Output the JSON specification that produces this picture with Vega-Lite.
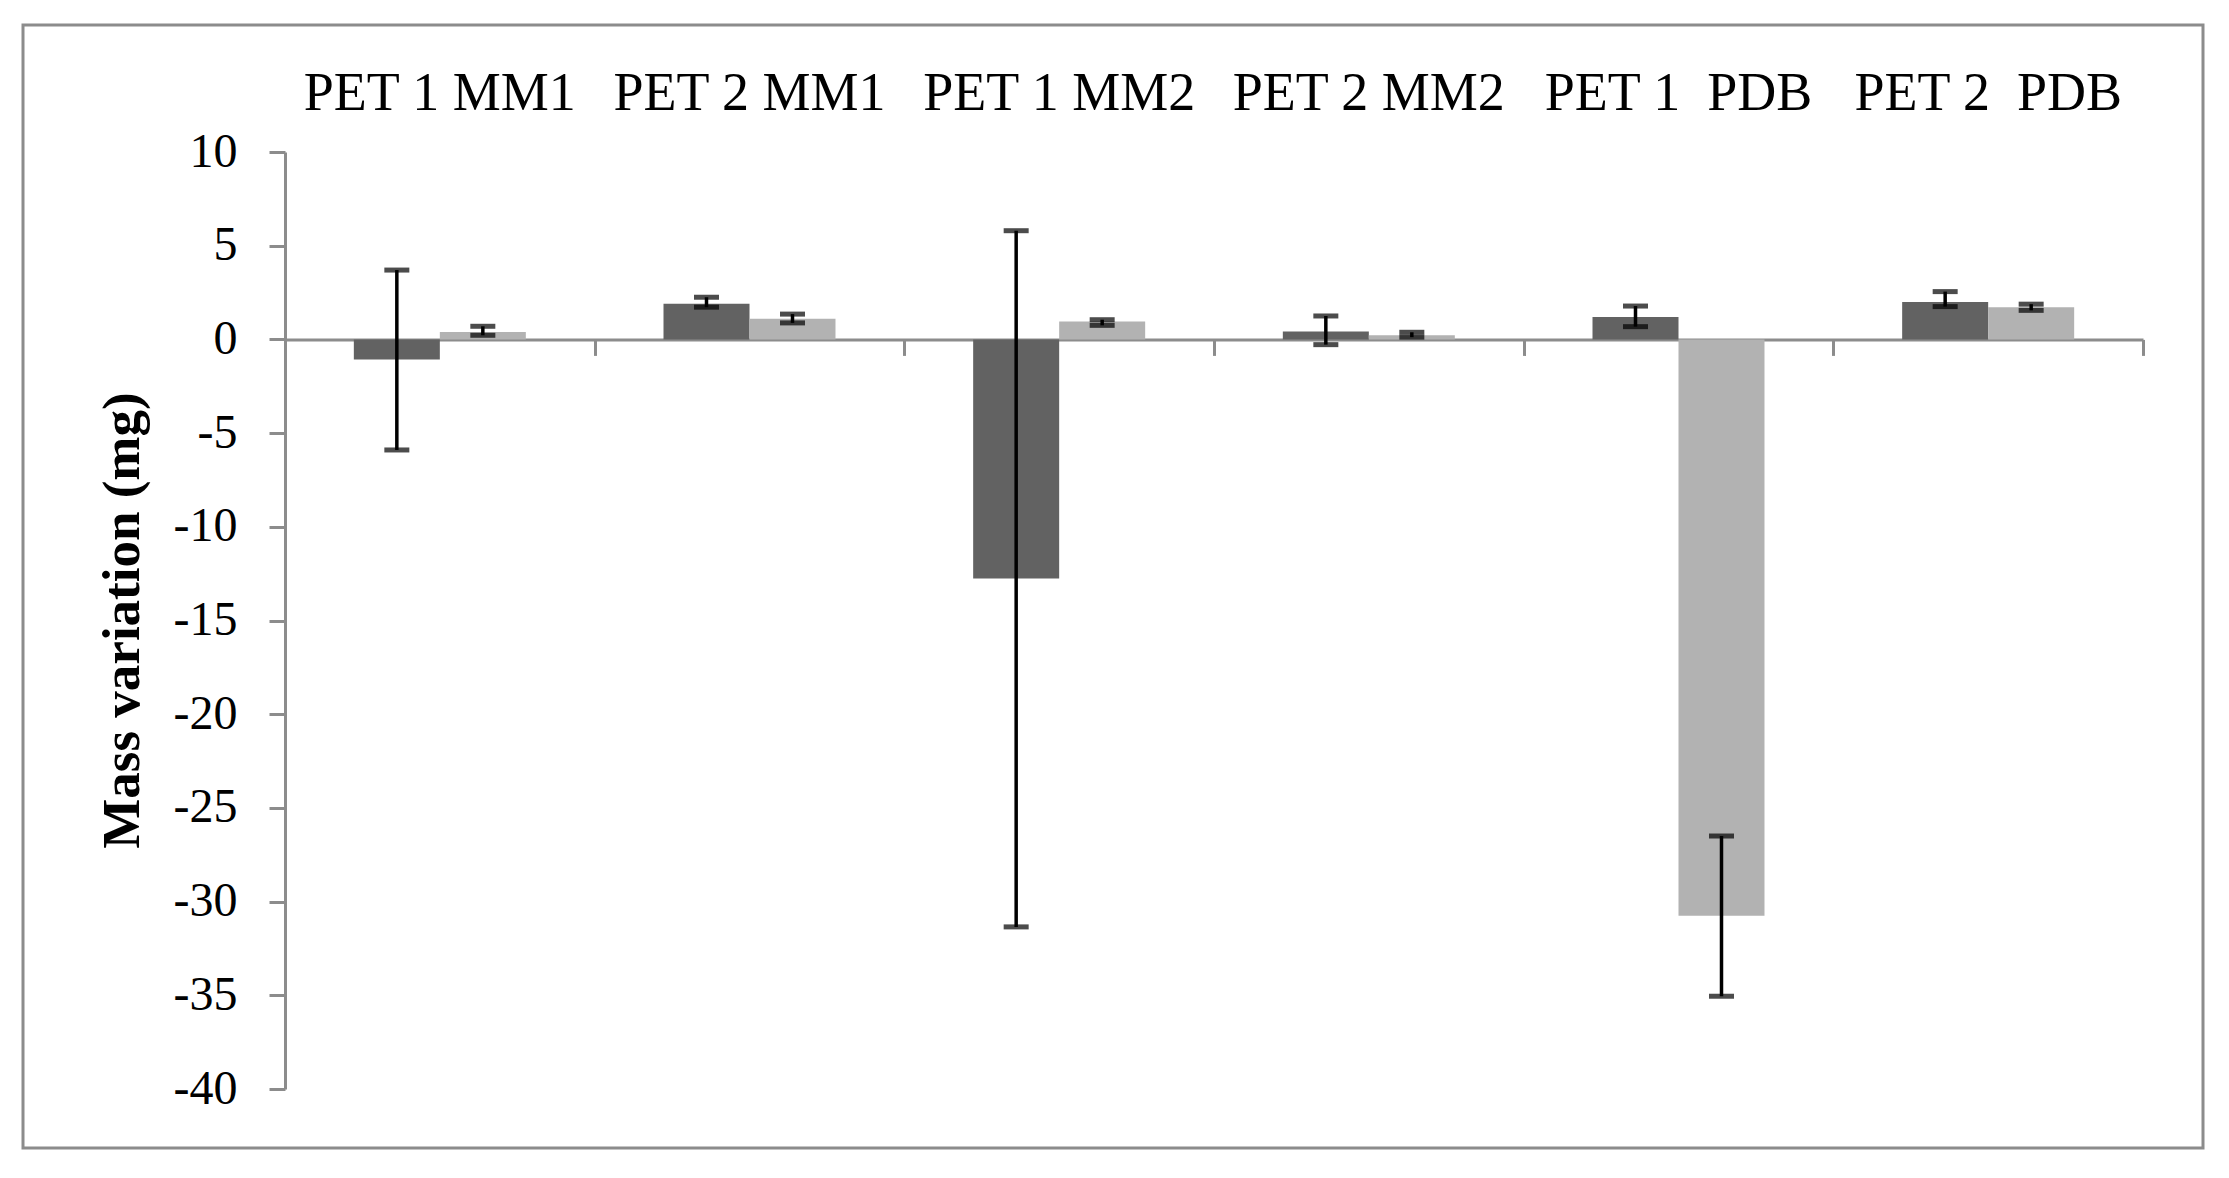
{
  "$schema": "https://vega.github.io/schema/vega-lite/v6.json",
  "autosize": {"type": "none"},
  "padding": {"left": 23, "top": 25, "right": 26, "bottom": 30},
  "width": 2180,
  "height": 1123,
  "background": "white",
  "config": {
    "view": {"stroke": "#8c8c8c", "strokeWidth": 3, "fill": "white"},
    "font": "Liberation Serif",
    "axisY": {
      "orient": "left", "offset": -262,
      "titleFont": "Liberation Serif", "titleFontSize": 53, "titleFontWeight": "bold", "titleColor": "black",
      "titleAngle": -90, "titleAlign": "center", "titleBaseline": "alphabetic",
      "titleX": -147, "titleY": 595,
      "labelFont": "Liberation Serif", "labelFontSize": 48, "labelColor": "black", "labelPadding": 32,
      "tickSize": 16, "tickColor": "#8c8c8c", "tickWidth": 3,
      "domainColor": "#8c8c8c", "domainWidth": 3, "grid": false
    }
  },
  "data": {
    "values": [
      {"cat": "PET 1 MM1", "series": "Series 1", "value": -1.07, "lo": -5.9, "hi": 3.7},
      {"cat": "PET 1 MM1", "series": "Series 2", "value": 0.4, "lo": 0.22, "hi": 0.7},
      {"cat": "PET 2 MM1", "series": "Series 1", "value": 1.9, "lo": 1.72, "hi": 2.25},
      {"cat": "PET 2 MM1", "series": "Series 2", "value": 1.1, "lo": 0.88, "hi": 1.35},
      {"cat": "PET 1 MM2", "series": "Series 1", "value": -12.76, "lo": -31.35, "hi": 5.8},
      {"cat": "PET 1 MM2", "series": "Series 2", "value": 0.95, "lo": 0.75, "hi": 1.05},
      {"cat": "PET 2 MM2", "series": "Series 1", "value": 0.42, "lo": -0.28, "hi": 1.25},
      {"cat": "PET 2 MM2", "series": "Series 2", "value": 0.22, "lo": 0.12, "hi": 0.38},
      {"cat": "PET 1\u00a0 PDB", "series": "Series 1", "value": 1.2, "lo": 0.68, "hi": 1.78},
      {"cat": "PET 1\u00a0 PDB", "series": "Series 2", "value": -30.75, "lo": -35.05, "hi": -26.5},
      {"cat": "PET 2\u00a0 PDB", "series": "Series 1", "value": 2.0, "lo": 1.75, "hi": 2.55},
      {"cat": "PET 2\u00a0 PDB", "series": "Series 2", "value": 1.72, "lo": 1.55, "hi": 1.88}
    ]
  },
  "resolve": {"axis": {"x": "independent"}},
  "layer": [
    {
      "mark": {"type": "bar"},
      "encoding": {
        "x": {
          "field": "cat", "type": "nominal", "sort": null,
          "scale": {"range": [262, 2120], "paddingInner": 0, "paddingOuter": 0},
          "axis": {
            "orient": "bottom", "offset": -808.6, "labels": false, "title": null,
            "tickBand": "extent", "tickSize": 16, "tickColor": "#8c8c8c", "tickWidth": 3,
            "domainColor": "#8c8c8c", "domainWidth": 3, "grid": false
          }
        },
        "xOffset": {"field": "series", "type": "nominal", "scale": {"paddingInner": 0, "paddingOuter": 0.8004}},
        "y": {
          "field": "value", "type": "quantitative", "title": "Mass variation (mg)",
          "scale": {"domain": [-40, 10], "range": [1064, 127], "nice": false, "zero": false},
          "axis": {"values": [-40, -35, -30, -25, -20, -15, -10, -5, 0, 5, 10], "labelExpr": "'' + datum.value"}
        },
        "color": {"field": "series", "type": "nominal", "scale": {"range": ["#626262", "#b2b2b2"]}, "legend": null}
      }
    },
    {
      "mark": {"type": "rule", "color": "black", "strokeWidth": 3.5},
      "encoding": {
        "x": {
          "field": "cat", "type": "nominal", "sort": null,
          "axis": {
            "orient": "top", "offset": -127, "domain": false, "ticks": false, "tickSize": 0, "title": null,
            "labelAngle": 0, "labelPadding": 43, "labelBaseline": "alphabetic", "labelLimit": 0,
            "labelFont": "Liberation Serif", "labelFontSize": 54, "labelColor": "black", "grid": false
          }
        },
        "xOffset": {"field": "series", "type": "nominal"},
        "y": {
          "field": "lo", "type": "quantitative", "title": "Mass variation (mg)",
          "axis": {"values": [-40, -35, -30, -25, -20, -15, -10, -5, 0, 5, 10], "labelExpr": "'' + datum.value"}
        },
        "y2": {"field": "hi"}
      }
    },
    {
      "mark": {"type": "tick", "color": "black", "size": 25, "thickness": 5},
      "encoding": {
        "x": {"field": "cat", "type": "nominal", "sort": null, "axis": null},
        "xOffset": {"field": "series", "type": "nominal"},
        "y": {
          "field": "lo", "type": "quantitative", "title": "Mass variation (mg)",
          "axis": {"values": [-40, -35, -30, -25, -20, -15, -10, -5, 0, 5, 10], "labelExpr": "'' + datum.value"}
        }
      }
    },
    {
      "mark": {"type": "tick", "color": "black", "size": 25, "thickness": 5},
      "encoding": {
        "x": {"field": "cat", "type": "nominal", "sort": null, "axis": null},
        "xOffset": {"field": "series", "type": "nominal"},
        "y": {
          "field": "hi", "type": "quantitative", "title": "Mass variation (mg)",
          "axis": {"values": [-40, -35, -30, -25, -20, -15, -10, -5, 0, 5, 10], "labelExpr": "'' + datum.value"}
        }
      }
    }
  ]
}
